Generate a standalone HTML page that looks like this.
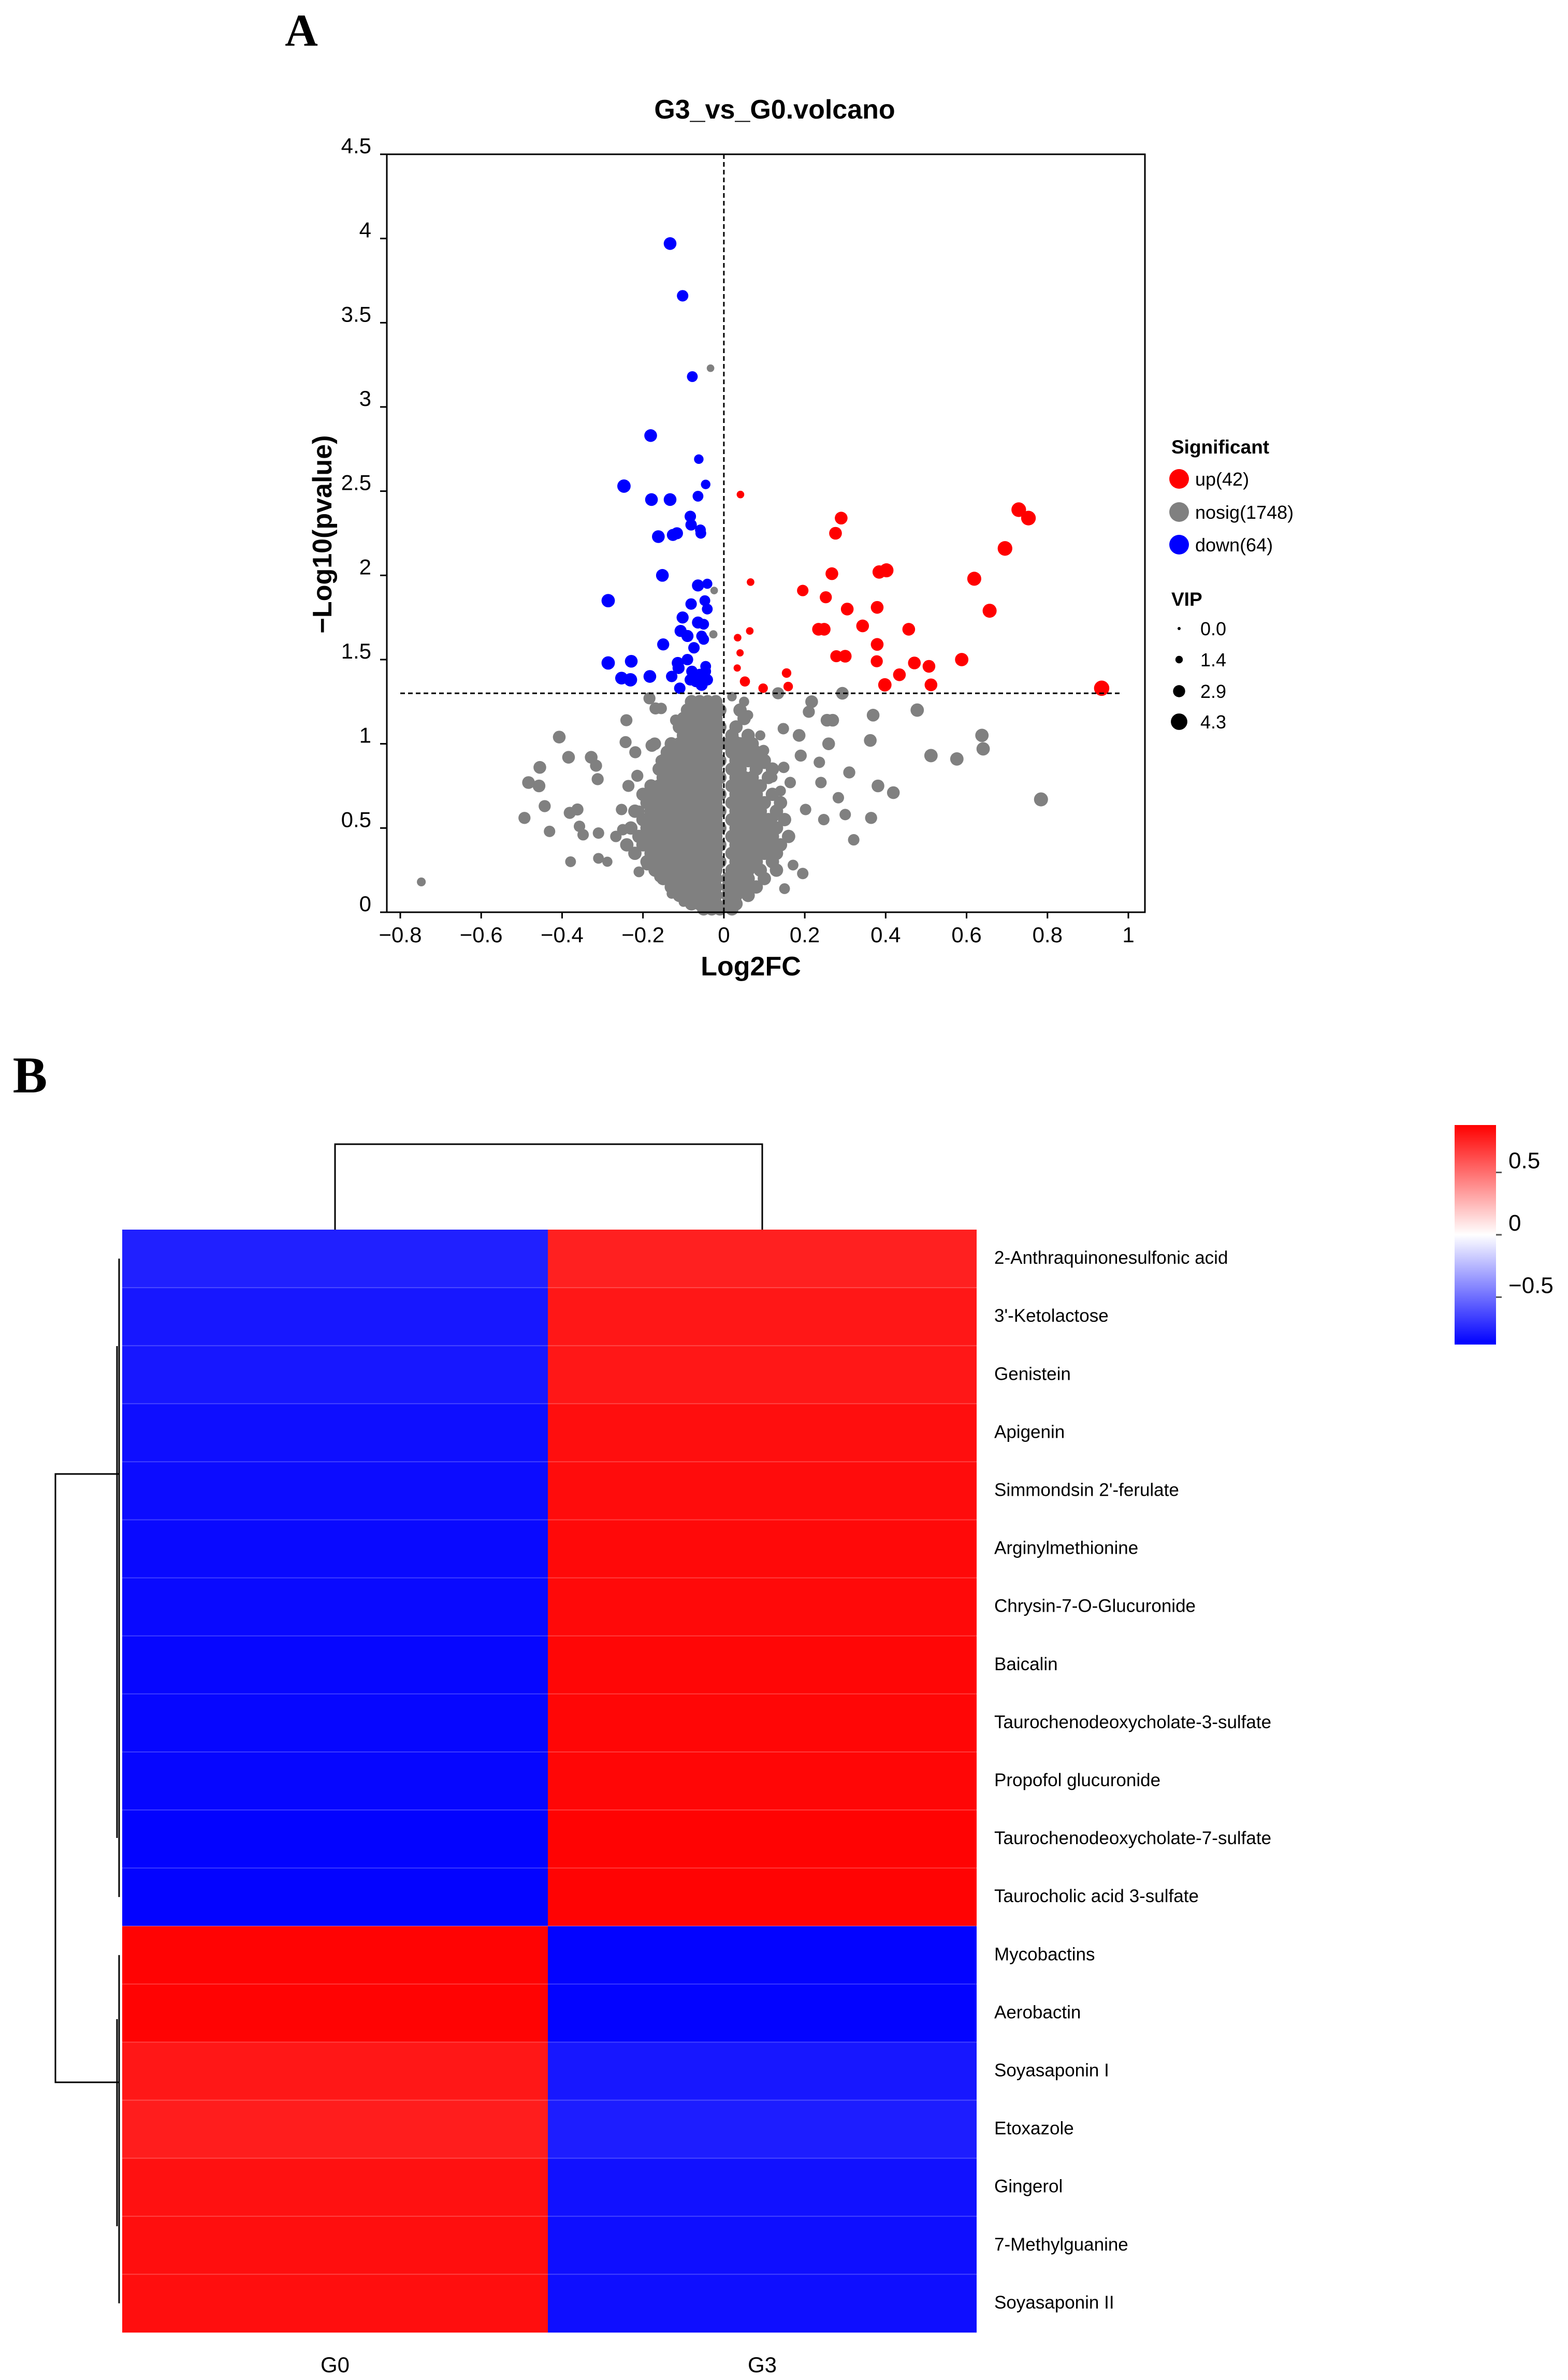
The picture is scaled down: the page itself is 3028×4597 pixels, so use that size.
<!DOCTYPE html>
<html><head><meta charset="utf-8"><style>
html,body{margin:0;padding:0;background:#fff;}
svg{display:block;font-family:"Liberation Sans",Arial,sans-serif;}
</style></head><body>
<svg id="fig" width="3028" height="4597" viewBox="0 0 3028 4597" xmlns="http://www.w3.org/2000/svg">
<rect width="3028" height="4597" fill="#fff"/>
<text x="582" y="88" font-family="Liberation Serif,serif" font-weight="bold" font-size="88" text-anchor="middle">A</text>
<text x="1496" y="229" font-weight="bold" font-size="52" text-anchor="middle">G3_vs_G0.volcano</text>
<g id="volcano"></g>
<text x="1450" y="1884" font-weight="bold" font-size="52" text-anchor="middle">Log2FC</text>
<text transform="translate(640,1032) rotate(-90)" font-weight="bold" font-size="52" text-anchor="middle">−Log10(pvalue)</text>
<g id="legend">
<text x="2262" y="876" font-weight="bold" font-size="37">Significant</text>
<text x="2262" y="1170" font-weight="bold" font-size="37">VIP</text>
</g>
<text x="58" y="2110" font-family="Liberation Serif,serif" font-weight="bold" font-size="100" text-anchor="middle">B</text>
<g id="heat"></g>
</svg>
<script>
// ---------- Volcano data ----------
const xTicks=[-0.8,-0.6,-0.4,-0.2,0,0.2,0.4,0.6,0.8,1];
const xTickLabels=["−0.8","−0.6","−0.4","−0.2","0","0.2","0.4","0.6","0.8","1"];
const yTicks=[0,0.5,1,1.5,2,2.5,3,3.5,4,4.5];
const yTickLabels=["0","0.5","1","1.5","2","2.5","3","3.5","4","4.5"];
const pThreshold=1.3;
const fcThreshold=0;
const legendGroups=["up(42)","nosig(1748)","down(64)"];
const vipLegend=[0.0,1.4,2.9,4.3];
const vipLegendLabels=["0.0","1.4","2.9","4.3"];
// [log2fc, -log10p, vip]
const downPts=[[-0.133,3.97,3.0],[-0.102,3.66,2.6],[-0.078,3.18,2.4],[-0.181,2.83,3.0],[-0.062,2.69,2.0],[-0.045,2.54,2.0],[-0.247,2.53,3.2],[-0.179,2.45,3.0],[-0.133,2.45,3.0],[-0.064,2.47,2.4],[-0.083,2.35,2.6],[-0.081,2.30,2.6],[-0.058,2.27,2.4],[-0.057,2.25,2.4],[-0.162,2.23,3.0],[-0.126,2.24,2.8],[-0.116,2.25,2.8],[-0.152,2.0,3.0],[-0.064,1.94,2.8],[-0.041,1.95,2.2],[-0.286,1.85,3.2],[-0.081,1.83,2.6],[-0.047,1.85,2.4],[-0.041,1.80,2.4],[-0.102,1.75,2.8],[-0.064,1.72,2.8],[-0.050,1.71,2.4],[-0.090,1.64,2.8],[-0.107,1.67,2.8],[-0.055,1.64,2.4],[-0.050,1.62,2.4],[-0.150,1.59,2.8],[-0.074,1.57,2.6],[-0.114,1.48,2.8],[-0.090,1.50,2.6],[-0.045,1.46,2.4],[-0.286,1.48,3.2],[-0.229,1.49,3.0],[-0.112,1.45,2.8],[-0.079,1.43,2.6],[-0.045,1.43,2.4],[-0.253,1.39,3.0],[-0.231,1.38,3.2],[-0.183,1.40,3.0],[-0.129,1.40,2.6],[-0.083,1.38,2.6],[-0.059,1.41,2.8],[-0.041,1.38,2.6],[-0.109,1.33,2.6],[-0.055,1.35,2.8],[-0.069,1.37,2.6]];
const upPts=[[0.041,2.48,1.4],[0.066,1.96,1.4],[0.064,1.67,1.4],[0.034,1.63,1.4],[0.040,1.54,1.3],[0.033,1.45,1.3],[0.052,1.37,2.2],[0.097,1.33,2.0],[0.155,1.42,2.0],[0.159,1.34,2.0],[0.195,1.91,2.6],[0.252,1.87,2.8],[0.234,1.68,3.0],[0.248,1.68,3.0],[0.267,2.01,3.0],[0.276,2.25,3.0],[0.290,2.34,3.0],[0.305,1.80,3.0],[0.278,1.52,2.8],[0.300,1.52,3.0],[0.343,1.70,3.0],[0.379,1.81,3.0],[0.379,1.59,3.0],[0.378,1.49,2.8],[0.384,2.02,3.2],[0.402,2.03,3.4],[0.398,1.35,3.2],[0.434,1.41,3.0],[0.457,1.68,3.0],[0.471,1.48,3.0],[0.507,1.46,3.0],[0.512,1.35,3.0],[0.588,1.50,3.2],[0.619,1.98,3.4],[0.657,1.79,3.4],[0.695,2.16,3.6],[0.729,2.39,3.6],[0.753,2.34,3.6],[0.934,1.33,3.8]];
const nosigPts=[[-0.748,0.18,1.8],[-0.033,3.23,1.4],[-0.024,1.91,1.4],[-0.026,1.65,1.6],[0.784,0.67,3.4],[0.638,1.05,3.2],[0.641,0.97,3.2],[0.576,0.91,3.2],[0.512,0.93,3.2],[0.478,1.20,3.2],[0.419,0.71,3.0],[0.381,0.75,3.0],[0.369,1.17,3.0],[0.362,1.02,3.0],[0.364,0.56,2.8],[0.310,0.83,2.8],[0.293,1.30,3.0],[0.321,0.43,2.6],[0.283,0.68,2.6],[0.300,0.58,2.6],[0.259,1.00,3.0],[0.269,1.14,3.0],[0.255,1.14,3.0],[0.217,1.25,3.0],[0.210,1.19,2.8],[0.240,0.77,2.6],[0.236,0.89,2.6],[0.186,1.05,3.0],[0.190,0.93,2.8],[0.147,1.09,2.6],[0.134,1.30,2.8],[0.148,0.86,2.6],[0.098,0.96,2.6],[0.164,0.77,2.6],[0.121,0.56,2.4],[0.202,0.61,2.6],[0.195,0.23,2.6],[0.247,0.55,2.6],[0.171,0.28,2.4],[0.150,0.14,2.4],[-0.407,1.04,3.0],[-0.384,0.92,3.0],[-0.328,0.92,3.0],[-0.316,0.87,2.8],[-0.455,0.86,3.0],[-0.312,0.79,2.8],[-0.483,0.77,3.0],[-0.457,0.75,3.0],[-0.443,0.63,2.8],[-0.493,0.56,2.8],[-0.381,0.59,2.8],[-0.362,0.61,2.8],[-0.431,0.48,2.6],[-0.357,0.51,2.6],[-0.348,0.46,2.6],[-0.310,0.47,2.6],[-0.379,0.30,2.4],[-0.310,0.32,2.4],[-0.288,0.30,2.2],[-0.267,0.45,2.6],[-0.241,1.14,2.8],[-0.243,1.01,2.8],[-0.184,1.27,2.8],[-0.169,1.21,2.8],[-0.155,1.21,2.6],[-0.119,1.14,2.6],[-0.178,0.99,3.0],[-0.171,1.00,3.0],[-0.219,0.95,2.8],[-0.155,0.90,2.6],[-0.214,0.81,2.8],[-0.236,0.75,2.8],[-0.181,0.73,2.8],[-0.253,0.61,2.6],[-0.210,0.60,2.6],[-0.250,0.49,2.6],[-0.210,0.24,2.4],[-0.190,0.28,2.4],[-0.159,0.21,2.4],[-0.100,0.06,2.0],[-0.129,0.11,2.2],[0.02,1.28,2.0],[0.05,1.25,2.2],[0.06,1.17,2.2],[0.09,1.05,2.2],[0.03,1.02,2.0],[0.05,0.95,2.0],[0.08,0.90,2.2],[0.10,0.88,2.2],[0.12,0.80,2.2],[0.14,0.72,2.4]];
const coreLevels=[1.25,1.2,1.15,1.1,1.05,1.0,0.95,0.9,0.85,0.8,0.75,0.7,0.65,0.6,0.55,0.5,0.45,0.4,0.35,0.3,0.25,0.2,0.15,0.1,0.05,0.02];
const coreX=[
[-0.08,-0.06,-0.04,-0.02],
[-0.09,-0.07,-0.05,-0.03,-0.01,0.04],
[-0.1,-0.08,-0.06,-0.04,-0.02,0.05],
[-0.11,-0.09,-0.07,-0.05,-0.03,-0.01,0.03],
[-0.1,-0.08,-0.06,-0.04,-0.02,0.02,0.06],
[-0.13,-0.11,-0.09,-0.07,-0.05,-0.03,-0.01,0.01,0.04,0.07],
[-0.14,-0.12,-0.1,-0.08,-0.06,-0.04,-0.02,0.02,0.05,0.08],
[-0.15,-0.13,-0.11,-0.09,-0.07,-0.05,-0.03,-0.01,0.03,0.06,0.1],
[-0.16,-0.14,-0.12,-0.1,-0.08,-0.06,-0.04,-0.02,0.02,0.04,0.08,0.12],
[-0.15,-0.13,-0.11,-0.09,-0.07,-0.05,-0.03,-0.01,0.03,0.05,0.07,0.11],
[-0.18,-0.16,-0.14,-0.12,-0.1,-0.08,-0.06,-0.04,-0.02,0.02,0.04,0.06,0.09],
[-0.2,-0.17,-0.15,-0.13,-0.11,-0.09,-0.07,-0.05,-0.03,-0.01,0.03,0.05,0.08,0.12],
[-0.19,-0.16,-0.14,-0.12,-0.1,-0.08,-0.06,-0.04,-0.02,0.02,0.04,0.07,0.1,0.14],
[-0.22,-0.18,-0.15,-0.13,-0.11,-0.09,-0.07,-0.05,-0.03,-0.01,0.03,0.05,0.07,0.09,0.13],
[-0.2,-0.17,-0.14,-0.12,-0.1,-0.08,-0.06,-0.04,-0.02,0.02,0.04,0.06,0.08,0.11,0.15],
[-0.23,-0.19,-0.16,-0.13,-0.11,-0.09,-0.07,-0.05,-0.03,-0.01,0.03,0.05,0.07,0.1,0.13],
[-0.21,-0.18,-0.15,-0.12,-0.1,-0.08,-0.06,-0.04,-0.02,0.02,0.04,0.06,0.09,0.12,0.16],
[-0.24,-0.2,-0.17,-0.14,-0.11,-0.09,-0.07,-0.05,-0.03,-0.01,0.03,0.05,0.08,0.11,0.14],
[-0.22,-0.18,-0.15,-0.12,-0.1,-0.08,-0.06,-0.04,-0.02,0.02,0.04,0.07,0.1,0.13],
[-0.19,-0.16,-0.13,-0.11,-0.09,-0.07,-0.05,-0.03,-0.01,0.03,0.05,0.08,0.12],
[-0.17,-0.14,-0.12,-0.1,-0.08,-0.06,-0.04,-0.02,0.02,0.04,0.06,0.09,0.13],
[-0.15,-0.12,-0.1,-0.08,-0.06,-0.04,-0.02,0.01,0.03,0.06,0.1],
[-0.13,-0.1,-0.08,-0.06,-0.04,-0.02,0.01,0.03,0.05,0.08],
[-0.11,-0.08,-0.06,-0.04,-0.02,0.01,0.03,0.06],
[-0.08,-0.06,-0.04,-0.02,0.01,0.03],
[-0.05,-0.03,-0.01,0.02]];
const coreVip=3.2;

// ---------- Heatmap data ----------
const metabolites=["2-Anthraquinonesulfonic acid","3'-Ketolactose","Genistein","Apigenin","Simmondsin 2'-ferulate","Arginylmethionine","Chrysin-7-O-Glucuronide","Baicalin","Taurochenodeoxycholate-3-sulfate","Propofol glucuronide","Taurochenodeoxycholate-7-sulfate","Taurocholic acid 3-sulfate","Mycobactins","Aerobactin","Soyasaponin I","Etoxazole","Gingerol","7-Methylguanine","Soyasaponin II"];
const groups=["G0","G3"];
const valG0=[-0.77,-0.80,-0.80,-0.83,-0.84,-0.85,-0.85,-0.86,-0.86,-0.86,-0.87,-0.87,0.87,0.87,0.80,0.78,0.82,0.83,0.83];
const valG3=[0.77,0.80,0.80,0.83,0.84,0.85,0.85,0.86,0.86,0.86,0.87,0.87,-0.87,-0.87,-0.80,-0.78,-0.82,-0.83,-0.83];
const cbTicks=[0.5,0,-0.5];
const cbTickLabels=["0.5","0","−0.5"];
const cbMax=0.88;

const NS="http://www.w3.org/2000/svg";
function mk(tag,attrs,parent){const e=document.createElementNS(NS,tag);for(const k in attrs)e.setAttribute(k,attrs[k]);parent.appendChild(e);return e;}

const L=747,R=2211,T=298,B=1762;
const xMin=-0.8,xMax=1;
const X0=773,X1=2179;
function sx(v){return X0+(v-xMin)/(xMax-xMin)*(X1-X0);}
function sy(v){return B-(v/4.5)*(B-T);}
function rv(vip){return 3+3.1*vip;}
const vg=document.getElementById('volcano');

let e;
const gGray=mk('g',{},vg);


coreLevels.forEach((yv,i)=>{coreX[i].forEach(xv=>{
  e=mk('circle',{cx:sx(xv),cy:sy(yv),r:rv(coreVip),fill:'#808080'},gGray);
  
  
});});
nosigPts.forEach(p=>{
  e=mk('circle',{cx:sx(p[0]),cy:sy(p[1]),r:rv(p[2]),fill:'#808080'},gGray);
  
  
});
const gDown=mk('g',{},vg);


downPts.forEach(p=>{
  e=mk('circle',{cx:sx(p[0]),cy:sy(p[1]),r:rv(p[2]),fill:'#0000FF'},gDown);
  
  
});
const gUp=mk('g',{},vg);


upPts.forEach(p=>{
  e=mk('circle',{cx:sx(p[0]),cy:sy(p[1]),r:rv(p[2]),fill:'#FF0000'},gUp);
  
  
});

e=mk('line',{x1:sx(fcThreshold),x2:sx(fcThreshold),y1:T,y2:B,stroke:'#000','stroke-width':3,'stroke-dasharray':'9 6'},vg);


e=mk('line',{x1:sx(-0.8),x2:sx(0.98),y1:sy(pThreshold),y2:sy(pThreshold),stroke:'#000','stroke-width':3,'stroke-dasharray':'9 6'},vg);



e=mk('rect',{x:L,y:T,width:R-L,height:B-T,fill:'none',stroke:'#000','stroke-width':3},vg);



xTicks.forEach((v,i)=>{
  e=mk('line',{x1:sx(v),x2:sx(v),y1:B,y2:B+12,stroke:'#000','stroke-width':3},vg);
  
  
  e=mk('text',{x:sx(v),y:B+58,'font-size':42,'text-anchor':'middle'},vg);
  e.textContent=xTickLabels[i];
  
  
});
yTicks.forEach((v,i)=>{
  e=mk('line',{x1:L-13,x2:L,y1:sy(v),y2:sy(v),stroke:'#000','stroke-width':3},vg);
  
  
  e=mk('text',{x:L-30,y:sy(v)-2,'font-size':42,'text-anchor':'end'},vg);
  e.textContent=yTickLabels[i];
  
  
});

const lg=document.getElementById('legend');
const legColors=['#FF0000','#808080','#0000FF'];
const legY=[925,989,1052];
legendGroups.forEach((t,i)=>{
  e=mk('circle',{cx:2277,cy:legY[i],r:19,fill:legColors[i]},lg);
  
  
  e=mk('text',{x:2308,y:legY[i]+13,'font-size':36},lg);
  e.textContent=t;
  
  
});
const vipY=[1214,1274,1335,1394];
vipLegend.forEach((v,i)=>{
  e=mk('circle',{cx:2277,cy:vipY[i],r:3+3*v,fill:'#000'},lg);
  
  
  e=mk('text',{x:2318,y:vipY[i]+13,'font-size':36},lg);
  e.textContent=vipLegendLabels[i];
  
  
});

const hg=document.getElementById('heat');
const HL=236,HM=1058,HR=1886,HT=2375,RH=112.1;
function col(v){let t=Math.max(-1,Math.min(1,v/cbMax));
  if(t>=0){const c=Math.round(255*(1-t));return `rgb(255,${c},${c})`;}
  const c=Math.round(255*(1+t));return `rgb(${c},${c},255)`;}
const colX=[HL,HM];const colW=[HM-HL,HR-HM];
metabolites.forEach((m,i)=>{
  const y=HT+i*RH;
  [valG0[i],valG3[i]].forEach((v,j)=>{
    e=mk('rect',{x:colX[j],y:y,width:colW[j],height:RH+0.5,fill:col(v)},hg);
    
    
  });
  if(i>0){e=mk('line',{x1:HL,x2:HR,y1:y,y2:y,stroke:'#fff','stroke-opacity':0.22,'stroke-width':2},hg);
    
    }
  e=mk('text',{x:1920,y:y+RH/2+10,'font-size':35},hg);
  e.textContent=m;
  
  
});
groups.forEach((g,j)=>{
  e=mk('text',{x:colX[j]+colW[j]/2,y:4582,'font-size':42,'text-anchor':'middle'},hg);
  e.textContent=g;
  
  
});
const cx0=HL+colW[0]/2,cx1=HM+colW[1]/2;
e=mk('path',{d:`M${cx0},${HT} V2210 H${cx1} V${HT}`,fill:'none',stroke:'#000','stroke-width':3},hg);


const c1Top=HT+RH*0.5,c1Bot=HT+RH*11.5,c2Top=HT+RH*12.5,c2Bot=HT+RH*18.5;
e=mk('path',{d:`M230,2847 H107 V4022 H230 M230,${c1Top} V${c1Bot} M226,2600 V3550 M230,${c2Top} V${c2Bot} M226,3900 V4300`,fill:'none',stroke:'#000','stroke-width':3},hg);


const defs=mk('defs',{},hg);
const gr=mk('linearGradient',{id:'cbg',x1:0,y1:0,x2:0,y2:1},defs);
mk('stop',{offset:'0',  'stop-color':'#ff0000'},gr);
mk('stop',{offset:'0.5','stop-color':'#ffffff'},gr);
mk('stop',{offset:'1',  'stop-color':'#0000ff'},gr);
const CBT=2173,CBB=2597;
e=mk('rect',{x:2809,y:CBT,width:80,height:CBB-CBT,fill:'url(#cbg)'},hg);


function cy(v){return (CBT+CBB)/2-(v/cbMax)*(CBB-CBT)/2;}
cbTicks.forEach((v,i)=>{
  e=mk('line',{x1:2889,x2:2900,y1:cy(v),y2:cy(v),stroke:'#555','stroke-width':3},hg);
  
  
  e=mk('text',{x:2913,y:cy(v)-8,'font-size':44},hg);
  e.textContent=cbTickLabels[i];
  
  
});
</script>
</body></html>
